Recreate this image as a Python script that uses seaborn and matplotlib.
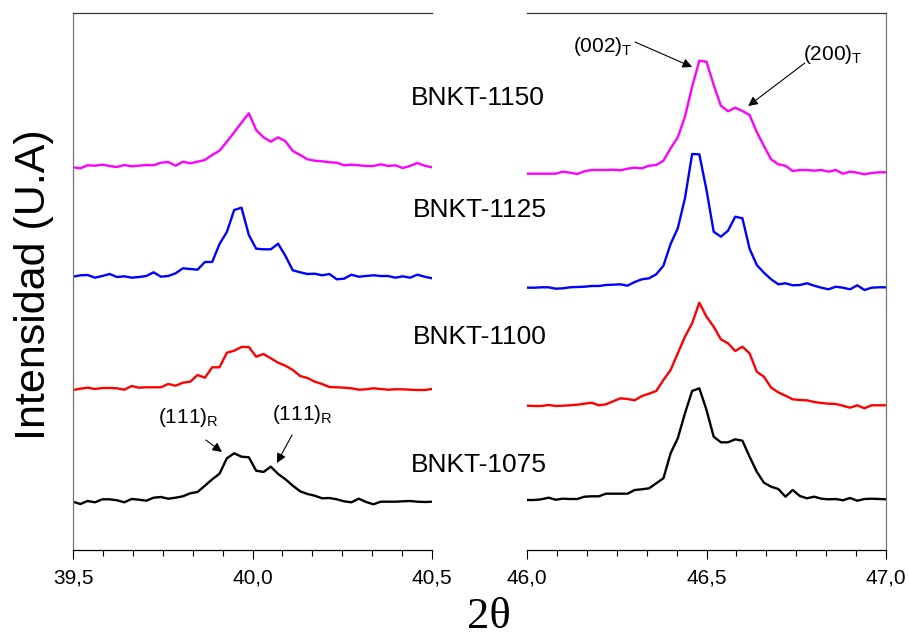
import numpy as np
import pandas as pd
import matplotlib
matplotlib.use("Agg")
import matplotlib.pyplot as plt
from matplotlib.ticker import AutoMinorLocator
import seaborn as sns

# ---------------- data (stacked intensities, arbitrary units) ----------------
samples = ["BNKT-1075", "BNKT-1100", "BNKT-1125", "BNKT-1150"]
colors = ["#000000", "#FF0000", "#0000FF", "#FF00FF"]

left_range = (39.5, 40.5)
right_range = (46.0, 47.0)

left_1075 = [45.3,43,46,44.7,47.7,47.7,46.7,44.7,48,47.3,46.3,49.3,50,48.3,49.3,50.7,53.7,55,61.3,67.7,
             73.3,88.7,93.7,90.3,89.7,76.3,75,80.3,73,67.7,61.3,55.7,53,51.3,48.7,49,47.7,45.7,44.7,48.3,
             45,42.7,45.3,45.3,45.3,45.7,46,45.3,45,45.3]
left_1100 = [157,158.3,159.3,158,159,159,158.7,157.3,161,159.3,159.7,159.7,159.7,163,161.3,164.3,165.3,172,169.3,179.7,
             179.7,194.3,196.3,200,200,190.3,193,188.7,184.3,181.3,177,171,169,165.3,163,160,159.7,159.3,158.7,157.3,
             157.7,158.7,158,157.3,157.7,157.7,157.3,157,157,158]
left_1125 = [270.3,271.7,272,269.3,271,273,270,270.7,269.3,270,271,274.7,270.3,271,273.7,278.7,278,277.3,285,285,
             303,315,337,339.3,312,298.3,297.7,297.7,303.3,291,276.7,274.7,273,273.3,271.7,273,267.7,268.3,272.3,270.3,
             271,271.7,271,271,269.3,270.7,269.3,272.3,270.3,268.7]
left_1150 = [379.7,378.7,381.7,381.3,382.3,381,380,382,380.7,381.3,382,381.7,384.3,385,381.3,385.3,383.7,385.3,387,392,
             396.3,405.3,414.7,424.3,433.7,417,409.7,405.3,409.7,405.7,396,392,387.7,386.3,385.7,384.7,384.3,381.7,382.3,381.7,
             381,381,382.7,381,381.7,379,381,384,381.3,379.7]

right_1075 = [47,47,47.7,49.3,47.3,48.3,48,48,50.3,50.7,50.7,53.3,53.3,53.3,53.3,57,57.7,58.7,63.7,68.7,
              93.7,108.7,133.7,156,158.7,137,110.3,104.7,104.7,107.7,106.3,90.3,75.3,64.3,60.3,58,50.3,57,51,48.7,
              50.3,48.3,47.7,48,46.7,49,46.3,48,48.3,48,47.7]
right_1100 = [141.3,141,141,142,141,141.3,141.7,142.3,143.3,144.3,141.7,142.7,145.7,148.7,148,146.7,151,153.3,156,167,
              177,193.7,210.3,223.7,244.3,230.3,220.3,207.7,203.7,196,200.3,193.7,175.3,170.3,159.3,154.7,151.3,147.7,147,146.7,
              145,144,143.3,143,141.3,139.3,141.7,138.7,141.7,141.7,141.7]
right_1125 = [259.3,259.3,259.7,259.7,258.3,258.7,259.7,260,260.3,261,261,262,262.3,262.7,261.3,265,267.7,268.7,272.7,281.3,
              303,318.7,348.7,393,392.7,357,315.3,310.3,316.3,330.3,328.7,298.3,282,274.3,267.7,262.7,263.7,261.7,262,263.7,
              261.3,259.3,257.7,260.3,259.3,257.7,261.7,257,259.3,259.7,259.7]
right_1150 = [373.3,373.3,373.3,373.3,373.3,375.3,374.3,373,375.7,377,377,377,377.3,376.7,378.3,379.3,378.7,381.3,382,386.3,
              398.7,409.7,430.3,460.3,486.3,485.3,462,441.3,435.7,439.3,436,432,415,401,387.7,382.7,381.3,376,377,377,
              376.3,377,375.3,377,373.3,375.3,374.3,372.7,374,374.7,374.7]

left_ticks = [39.5, 40.0, 40.5]
left_ticklabels = ["39,5", "40,0", "40,5"]
right_ticks = [46.0, 46.5, 47.0]
right_ticklabels = ["46,0", "46,5", "47,0"]

ylims = (-3, 534)

# ---------------- build tables ----------------
def make_df(series, xr):
    frames = []
    for name, vals in zip(samples, series):
        x = np.linspace(xr[0], xr[1], len(vals))
        frames.append(pd.DataFrame({"2theta": x, "I": vals, "sample": name}))
    return pd.concat(frames, ignore_index=True)

df_left = make_df([left_1075, left_1100, left_1125, left_1150], left_range)
df_right = make_df([right_1075, right_1100, right_1125, right_1150], right_range)

# ---------------- figure ----------------
sns.set_style("white")
plt.rcParams["font.family"] = ["Liberation Sans", "DejaVu Sans"]
plt.rcParams["text.color"] = "black"
plt.rcParams["xtick.color"] = "black"
plt.rcParams["axes.labelcolor"] = "black"

W, H = 909, 639
fig = plt.figure(figsize=(W / 100, H / 100), dpi=100)
top_px, bot_px = 13, 550
axL = fig.add_axes([73 / W, 1 - bot_px / H, 359 / W, (bot_px - top_px) / H])
axR = fig.add_axes([527 / W, 1 - bot_px / H, 359 / W, (bot_px - top_px) / H])

palette = dict(zip(samples, colors))
for ax, df, xr, ticks, labels in [(axL, df_left, left_range, left_ticks, left_ticklabels),
                                  (axR, df_right, right_range, right_ticks, right_ticklabels)]:
    sns.lineplot(data=df, x="2theta", y="I", hue="sample", palette=palette, units="sample",
                 estimator=None, sort=False, legend=False, linewidth=1.7, ax=ax)
    ax.set_xlim(*xr)
    ax.set_ylim(*ylims)
    ax.set_xlabel("")
    ax.set_ylabel("")
    ax.set_yticks([])
    ax.set_xticks(ticks)
    ax.set_xticklabels(labels, fontsize=15, color="black")
    ax.xaxis.set_minor_locator(AutoMinorLocator(6))
    ax.tick_params(axis="x", which="major", direction="out", length=6.5, width=0.8,
                   color="black", labelcolor="black", pad=7, bottom=True)
    ax.tick_params(axis="x", which="minor", direction="out", length=4.3, width=0.8,
                   color="black", bottom=True)
    ax.spines["top"].set_color("#333333")
    ax.spines["bottom"].set_color("black")
    for s in ax.spines.values():
        s.set_linewidth(0.9)
    ax.patch.set_alpha(0)

axL.spines["right"].set_visible(False)
axL.spines["left"].set_color("#777777")
axR.spines["left"].set_visible(False)
axR.spines["right"].set_color("#777777")

# sample labels
label_pos = {"BNKT-1150": (478, 98), "BNKT-1125": (480, 210),
             "BNKT-1100": (480, 337), "BNKT-1075": (479, 465)}
for name, (px, py) in label_pos.items():
    fig.text(px / W, 1 - py / H, name, ha="center", va="center", fontsize=19, color="black")

# peak annotations
arrow_kw = dict(arrowstyle="-|>", color="black", lw=0.8, mutation_scale=14,
                shrinkA=0, shrinkB=0)
sub = "$_\\mathregular{%s}$"
axL.text(39.737, 124, "(111)" + sub % "R", fontsize=15, ha="left", va="baseline", color="black")
axL.annotate("", xy=(39.915, 95), xytext=(39.870, 107), arrowprops=arrow_kw)
axL.text(40.054, 127, "(111)" + sub % "R", fontsize=15, ha="left", va="baseline", color="black")
axL.annotate("", xy=(40.068, 84), xytext=(40.110, 112), arrowprops=arrow_kw)

axR.text(46.128, 495, "(002)" + sub % "T", fontsize=15, ha="left", va="baseline", color="black")
axR.annotate("", xy=(46.460, 480), xytext=(46.301, 505), arrowprops=arrow_kw)
axR.text(46.769, 487, "(200)" + sub % "T", fontsize=15, ha="left", va="baseline", color="black")
axR.annotate("", xy=(46.616, 441), xytext=(46.774, 484), arrowprops=arrow_kw)

# axis titles
fig.text(34 / W, 1 - 285 / H, "Intensidad (U.A)", rotation=90, ha="center", va="center",
         fontsize=31, color="black")
fig.text(489 / W, 1 - 628 / H, "2\u03b8", ha="center", va="baseline", fontsize=32,
         family=["Liberation Serif", "DejaVu Serif"], color="black")

fig.savefig("out.png", dpi=100)
